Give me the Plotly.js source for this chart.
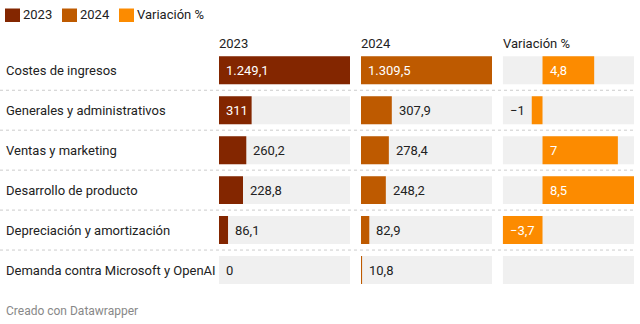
<!DOCTYPE html>
<html><head><meta charset="utf-8">
<script src="https://cdn.plot.ly/plotly-3.0.1.min.js"></script>
<style>html,body{margin:0;padding:0;background:#fff}#c{width:640px;height:324px}</style>
</head><body><div id="c"></div>
<script>
const categories = ["Costes de ingresos","Generales y administrativos","Ventas y marketing","Desarrollo de producto","Depreciación y amortización","Demanda contra Microsoft y OpenAI"];
const v2023 = [1249.1, 311, 260.2, 228.8, 86.1, 0];
const v2024 = [1309.5, 307.9, 278.4, 248.2, 82.9, 10.8];
const variacion = [4.8, -1, 7, 8.5, -3.7, null];
const seriesNames = ["2023", "2024", "Variación %"];
const colors = ["#832600", "#BE5A00", "#FC8B00"];
const source = "Creado con Datawrapper";

const W = 640, H = 324;
const FONT = "Roboto, 'Noto Sans', sans-serif";
const px = v => v / W;
const py = v => 1 - v / H;

function fmt(v) {
  if (v === null) return "";
  const neg = v < 0;
  let s = Math.abs(v).toString();
  let [ip, dp] = s.split(".");
  ip = ip.replace(/\B(?=(\d{3})+(?!\d))/g, ".");
  return (neg ? "\u2212" : "") + ip + (dp ? "," + dp : "");
}
const cvs = document.createElement("canvas").getContext("2d");
cvs.font = "13px Roboto";
const tw = s => cvs.measureText(s).width;

const cols = [
  {vals: v2023, x0: 219, x1: 350, ax: "x"},
  {vals: v2024, x0: 361, x1: 492, ax: "x2"},
  {vals: variacion, x0: 502.7, x1: 634, ax: "x3"}
];
cols.forEach(c => {
  const nums = c.vals.filter(v => v !== null);
  c.min = Math.min(0, ...nums); c.max = Math.max(0, ...nums);
});

const traces = [];
const annotations = [];
cols.forEach((c, ci) => {
  const yaxis = "y";
  traces.push({type: "bar", orientation: "h", y: categories, x: categories.map(() => c.max - c.min),
    base: categories.map(() => c.min), xaxis: c.ax, yaxis, marker: {color: "#F0F0F0"},
    hoverinfo: "skip", showlegend: false});
  traces.push({type: "bar", orientation: "h", y: categories, x: c.vals, xaxis: c.ax, yaxis,
    marker: {color: colors[ci]}, hoverinfo: "skip", showlegend: false});
  const wpx = c.x1 - c.x0, span = c.max - c.min;
  c.vals.forEach((v, i) => {
    if (v === null) return;
    const label = fmt(v);
    const barPx = Math.abs(v) / span * wpx;
    const inside = barPx >= tw(label) + 9;
    let a = {xref: c.ax, yref: "y", y: categories[i], showarrow: false, text: label,
      font: {family: FONT, size: 13, color: inside ? "#ffffff" : "#222222"}};
    if (v >= 0) {
      a.x = inside ? 0 : v; a.xanchor = "left"; a.xshift = 5;
    } else {
      if (inside) { a.x = v; a.xanchor = "left"; a.xshift = 5; }
      else { a.x = v; a.xanchor = "right"; a.xshift = -5; }
    }
    annotations.push(a);
  });
  annotations.push({xref: "paper", yref: "paper", x: px(c.x0 - 2), y: py(44), xanchor: "left", yanchor: "middle",
    showarrow: false, text: seriesNames[ci], font: {family: FONT, size: 13, color: "#222"}});
});

categories.forEach((cat, i) => {
  annotations.push({xref: "paper", yref: "y", x: px(4), y: cat, xanchor: "left", showarrow: false,
    text: cat, font: {family: FONT, size: 13, color: "#222"}});
});

const shapes = [];
for (let i = 0; i < categories.length - 1; i++) {
  shapes.push({type: "line", xref: "paper", yref: "y", x0: 0, x1: px(634), y0: i + 0.5, y1: i + 0.5,
    line: {color: "#cccccc", width: 1, dash: "dot"}});
}
const legX = [5, 62, 119];
seriesNames.forEach((n, i) => {
  shapes.push({type: "rect", xref: "paper", yref: "paper", x0: px(legX[i]), x1: px(legX[i] + 15),
    y0: py(22), y1: py(8.5), fillcolor: colors[i], line: {width: 0}});
  annotations.push({xref: "paper", yref: "paper", x: px(legX[i] + 16), y: py(15), xanchor: "left",
    yanchor: "middle", showarrow: false, text: n, font: {family: FONT, size: 13, color: "#222"}});
});
annotations.push({xref: "paper", yref: "paper", x: px(4), y: py(311), xanchor: "left", yanchor: "middle",
  showarrow: false, text: source, font: {family: FONT, size: 12, color: "#888"}});

const xbase = {visible: false, showgrid: false, zeroline: false, fixedrange: true, anchor: "y"};
const layout = {
  width: W, height: H, margin: {l: 0, r: 0, t: 0, b: 0},
  paper_bgcolor: "#fff", plot_bgcolor: "rgba(0,0,0,0)",
  barmode: "overlay", bargap: 0.3, showlegend: false,
  font: {family: FONT},
  xaxis: Object.assign({}, xbase, {domain: [px(cols[0].x0), px(cols[0].x1)], range: [cols[0].min, cols[0].max]}),
  xaxis2: Object.assign({}, xbase, {domain: [px(cols[1].x0), px(cols[1].x1)], range: [cols[1].min, cols[1].max]}),
  xaxis3: Object.assign({}, xbase, {domain: [px(cols[2].x0), px(cols[2].x1)], range: [cols[2].min, cols[2].max]}),
  yaxis: {visible: false, type: "category", domain: [py(290), py(50.3)], range: [categories.length - 0.5, -0.5], fixedrange: true},
  shapes, annotations
};
Plotly.newPlot("c", traces, layout, {staticPlot: true, displayModeBar: false});
</script></body></html>
